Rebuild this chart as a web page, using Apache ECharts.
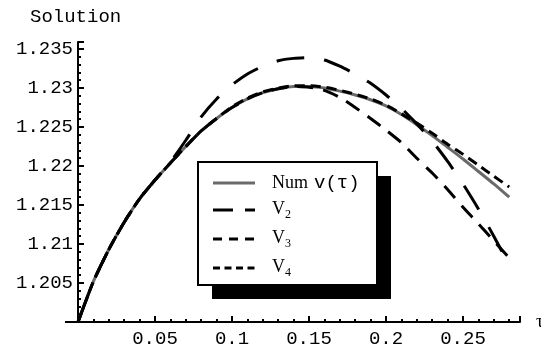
<!DOCTYPE html>
<html>
<head>
<meta charset="utf-8">
<script src="https://cdn.jsdelivr.net/npm/echarts@6/dist/echarts.min.js"></script>
<style>html,body{margin:0;padding:0;background:#fff;}#c{width:541px;height:352px;}</style>
</head>
<body>
<div id="c"></div>
<script>
const tau = [0,0.01,0.02,0.03,0.04,0.05,0.06,0.07,0.08,0.09,0.10,0.11,0.12,0.13,0.14,0.15,0.16,0.17,0.18,0.19,0.20,0.21,0.22,0.23,0.24,0.25,0.26,0.27,0.28];
const numV = [1.2000,1.2052,1.2093,1.2128,1.2158,1.2182,1.2204,1.2225,1.2245,1.2261,1.2275,1.2286,1.2294,1.2299,1.2302,1.2302,1.2300,1.2296,1.2291,1.2285,1.2277,1.2266,1.2253,1.2239,1.2224,1.2209,1.2193,1.2177,1.2160];
const v2 = [1.2000,1.2052,1.2093,1.2128,1.2158,1.2182,1.2205,1.2233,1.2263,1.2286,1.2304,1.2318,1.2328,1.2335,1.2338,1.2339,1.2336,1.2328,1.2318,1.2306,1.2291,1.2274,1.2254,1.2232,1.2206,1.2177,1.2145,1.2110,1.2073];
const v3 = [1.2000,1.2052,1.2093,1.2128,1.2158,1.2182,1.2204,1.2225,1.2245,1.2261,1.2275,1.2286,1.2294,1.2299,1.2302,1.2301,1.2297,1.2288,1.2275,1.2261,1.2246,1.2230,1.2210,1.2191,1.2170,1.2147,1.2126,1.2104,1.2082];
const v4 = [1.2000,1.2052,1.2093,1.2128,1.2158,1.2182,1.2204,1.2225,1.2245,1.2261,1.2276,1.2287,1.2295,1.2300,1.2303,1.2303,1.2301,1.2297,1.2292,1.2286,1.2278,1.2267,1.2255,1.2242,1.2228,1.2215,1.2201,1.2187,1.2173];
const seriesNames = ['Num v(τ)','V2','V3','V4'];
const yLabelText = 'Solution';
const xLabelText = 'τ';

const mono = '"Liberation Mono", "DejaVu Sans Mono", monospace';
const serif = '"Liberation Serif", "DejaVu Serif", serif';

function pairs(arr){ return tau.map((t,i)=>[t, arr[i]]); }

const chart = echarts.init(document.getElementById('c'), null, {renderer:'canvas'});
const ax = {
  axisLine:{show:true, onZero:false, lineStyle:{color:'#000', width:2}},
  axisTick:{show:true, inside:true, length:6, lineStyle:{color:'#000', width:2}},
  minorTick:{show:true, splitNumber:5, length:3, lineStyle:{color:'#000', width:2}},
  splitLine:{show:false}, minorSplitLine:{show:false}
};
const option = {
  animation:false,
  backgroundColor:'#fff',
  grid:{left:78, top:42, right:21, bottom:30, containLabel:false},
  xAxis:Object.assign({type:'value', min:0, max:0.287, interval:0.05,
    axisLabel:{show:true, margin:7, color:'#000', fontFamily:mono, fontSize:19, showMinLabel:false, showMaxLabel:false,
      formatter:v=>String(+v.toFixed(3))}}, ax),
  yAxis:Object.assign({type:'value', min:1.2, max:1.2359, interval:0.005,
    axisLabel:{show:true, margin:5, color:'#000', fontFamily:mono, fontSize:19, showMinLabel:false, showMaxLabel:false,
      formatter:v=>String(+v.toFixed(3))}}, ax),
  series:[
    {name:seriesNames[0], type:'line', data:pairs(numV), showSymbol:false, smooth:0.2, lineStyle:{color:'#6a6a6a', width:3}, z:2},
    {name:seriesNames[1], type:'line', data:pairs(v2), showSymbol:false, smooth:0.2, lineStyle:{color:'#000', width:3, type:[28,20]}, z:3},
    {name:seriesNames[2], type:'line', data:pairs(v3), showSymbol:false, smooth:0.2, lineStyle:{color:'#000', width:3, type:[16,10]}, z:3},
    {name:seriesNames[3], type:'line', data:pairs(v4), showSymbol:false, smooth:0.2, lineStyle:{color:'#000', width:3, type:[10,6]}, z:3}
  ],
  graphic:[
    {type:'line', shape:{x1:65,y1:322,x2:79,y2:322}, style:{stroke:'#000', lineWidth:2}, z:10},
    {type:'text', left:30, top:7, style:{text:yLabelText, font:'19px '+mono, fill:'#000'}},
    {type:'text', x:536, y:322, style:{text:xLabelText, font:'19px '+serif, fill:'#000', verticalAlign:'middle', align:'left'}},
    {type:'rect', shape:{x:212,y:176,width:179,height:123}, style:{fill:'#000'}, z:20},
    {type:'rect', shape:{x:198,y:162,width:179,height:123}, style:{fill:'#fff', stroke:'#000', lineWidth:2}, z:21},
    {type:'line', shape:{x1:213,y1:183,x2:255,y2:183}, style:{stroke:'#6a6a6a', lineWidth:3}, z:22},
    {type:'line', shape:{x1:213,y1:210,x2:255,y2:210}, style:{stroke:'#000', lineWidth:3, lineDash:[20,12]}, z:22},
    {type:'line', shape:{x1:213,y1:239,x2:255,y2:239}, style:{stroke:'#000', lineWidth:3, lineDash:[9,7]}, z:22},
    {type:'line', shape:{x1:213,y1:268,x2:255,y2:268}, style:{stroke:'#000', lineWidth:3, lineDash:[7,4.5]}, z:22},
    {type:'text', x:272, y:183, style:{text:'Num', font:'18px '+serif, fill:'#000', verticalAlign:'middle'}, z:22},
    {type:'text', x:314, y:183, style:{text:'v(τ)', font:'19px '+mono, fill:'#000', verticalAlign:'middle'}, z:22},
    {type:'text', x:272, y:209, style:{text:'V', font:'18px '+serif, fill:'#000', verticalAlign:'middle'}, z:22},
    {type:'text', x:285, y:215, style:{text:'2', font:'12px '+serif, fill:'#000', verticalAlign:'middle'}, z:22},
    {type:'text', x:272, y:238, style:{text:'V', font:'18px '+serif, fill:'#000', verticalAlign:'middle'}, z:22},
    {type:'text', x:285, y:244, style:{text:'3', font:'12px '+serif, fill:'#000', verticalAlign:'middle'}, z:22},
    {type:'text', x:272, y:267, style:{text:'V', font:'18px '+serif, fill:'#000', verticalAlign:'middle'}, z:22},
    {type:'text', x:285, y:273, style:{text:'4', font:'12px '+serif, fill:'#000', verticalAlign:'middle'}, z:22}
  ]
};
chart.setOption(option);
</script>
</body>
</html>
